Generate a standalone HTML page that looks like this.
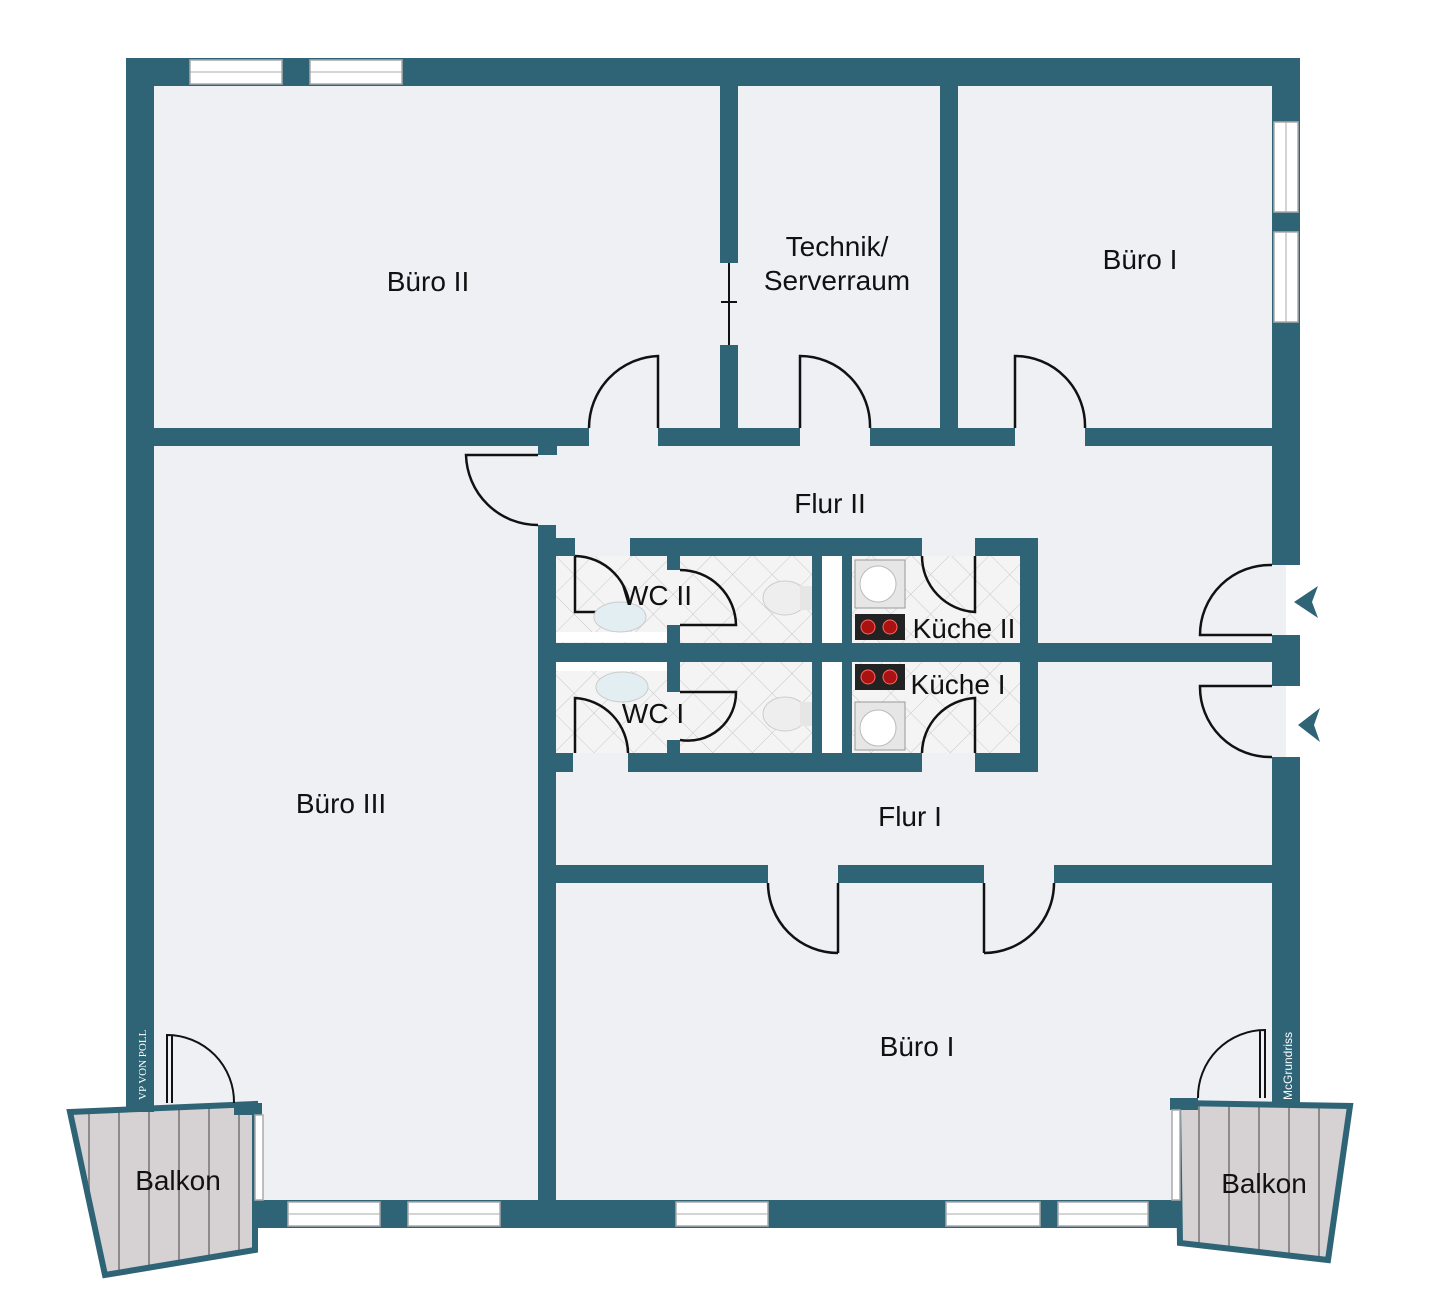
<!DOCTYPE html>
<html><head><meta charset="utf-8"><style>
html,body{margin:0;padding:0;background:#fff;}
svg{display:block;}
text{font-family:"Liberation Sans",sans-serif;fill:#111;}
</style></head><body>
<svg width="1440" height="1308" viewBox="0 0 1440 1308" xmlns="http://www.w3.org/2000/svg">
<defs>
<pattern id="tile" width="28" height="28" patternUnits="userSpaceOnUse" patternTransform="rotate(45)">
<rect width="28" height="28" fill="#f4f4f4"/>
<path d="M0 0H28M0 0V28" stroke="#c8c8c8" stroke-width="1"/>
</pattern>
<pattern id="wood" width="30" height="200" patternUnits="userSpaceOnUse">
<rect width="30" height="200" fill="#d6d2d3"/>
<rect x="28" width="2" height="200" fill="#8e8a8c"/>
</pattern>
</defs>
<rect x="140" y="72" width="1146" height="1142" fill="#eef0f4"/>
<rect x="1270" y="565" width="16" height="192" fill="#eef0f4"/>
<rect x="556" y="556" width="464" height="197" fill="url(#tile)"/>
<rect x="822" y="556" width="20" height="197" fill="#fff"/>
<rect x="556" y="632" width="111" height="10" fill="#fff"/>
<rect x="556" y="662" width="111" height="9" fill="#fff"/>
<polygon points="70,1112 255,1104 255,1250 105,1275" fill="url(#wood)" stroke="#2e6476" stroke-width="6"/>
<polygon points="1178,1103 1350,1106 1328,1260 1180,1243" fill="url(#wood)" stroke="#2e6476" stroke-width="6"/>
<g fill="#2e6476">
<rect x="126" y="58" width="1174" height="28"/>
<rect x="126" y="58" width="28" height="1054"/>
<rect x="1272" y="58" width="28" height="507"/>
<rect x="1272" y="635" width="28" height="51"/>
<rect x="1272" y="757" width="28" height="349"/>
<rect x="253" y="1200" width="927" height="28"/>
<rect x="234" y="1103" width="28" height="12"/>
<rect x="1170" y="1098" width="28" height="12"/>
<rect x="154" y="428" width="435" height="18"/>
<rect x="658" y="428" width="142" height="18"/>
<rect x="870" y="428" width="145" height="18"/>
<rect x="1085" y="428" width="187" height="18"/>
<rect x="720" y="86" width="18" height="177"/>
<rect x="720" y="345" width="18" height="83"/>
<rect x="940" y="86" width="18" height="342"/>
<rect x="538" y="446" width="19" height="9"/>
<rect x="538" y="525" width="18" height="675"/>
<rect x="538" y="538" width="37" height="18"/>
<rect x="630" y="538" width="292" height="18"/>
<rect x="975" y="538" width="63" height="18"/>
<rect x="1020" y="538" width="18" height="234"/>
<rect x="538" y="643" width="734" height="19"/>
<rect x="538" y="753" width="35" height="19"/>
<rect x="628" y="753" width="294" height="19"/>
<rect x="975" y="753" width="63" height="19"/>
<rect x="667" y="556" width="13" height="14"/>
<rect x="667" y="625" width="13" height="37"/>
<rect x="667" y="662" width="13" height="30"/>
<rect x="667" y="740" width="13" height="13"/>
<rect x="812" y="556" width="10" height="197"/>
<rect x="842" y="556" width="10" height="197"/>
<rect x="556" y="865" width="212" height="18"/>
<rect x="838" y="865" width="146" height="18"/>
<rect x="1054" y="865" width="218" height="18"/>
</g>
<g fill="#fff" stroke="#aaa" stroke-width="1.5">
<rect x="190" y="60" width="92" height="24"/><rect x="310" y="60" width="92" height="24"/>
<rect x="1274" y="122" width="24" height="90"/><rect x="1274" y="232" width="24" height="90"/>
<rect x="288" y="1202" width="92" height="24"/><rect x="408" y="1202" width="92" height="24"/>
<rect x="676" y="1202" width="92" height="24"/><rect x="946" y="1202" width="94" height="24"/><rect x="1058" y="1202" width="90" height="24"/>
<rect x="255" y="1115" width="8" height="85"/><rect x="1172" y="1110" width="8" height="90"/>
</g>
<g stroke="#aaa" stroke-width="1">
<path d="M190 72H282M310 72H402M1286 122V212M1286 232V322M288 1214H380M408 1214H500M676 1214H768M946 1214H1040M1058 1214H1148"/>
</g>
<g fill="none" stroke="#111" stroke-width="2.5">
<path d="M658 428V356A72 72 0 0 0 589 428"/>
<path d="M800 428V356A70 70 0 0 1 870 428"/>
<path d="M1015 428V356A70 70 0 0 1 1085 428"/>
<path d="M538 455H466A72 72 0 0 0 538 525"/>
<path d="M729 263V345M721 302H737" stroke-width="2"/>
<path d="M838 953V883M838 953A70 70 0 0 1 768 883"/>
<path d="M984 953V883M984 953A70 70 0 0 0 1054 883"/>
<path d="M1272 635H1200A70 70 0 0 1 1272 565"/>
<path d="M1272 686H1200A70 70 0 0 0 1272 757"/>
<path d="M575 556V612H630A56 56 0 0 0 575 556"/>
<path d="M680 570A56 56 0 0 1 736 625H680"/>
<path d="M680 740A48 48 0 0 0 736 692H680"/>
<path d="M575 753V698A56 56 0 0 1 628 753"/>
<path d="M975 556V612A56 56 0 0 1 922 556"/>
<path d="M975 753V698A56 56 0 0 0 922 753"/>
<path d="M167 1103V1035A67 67 0 0 1 234 1103M172 1103V1035" stroke-width="2"/>
<path d="M1265 1098V1030A67 67 0 0 0 1198 1098M1260 1098V1030" stroke-width="2"/>
</g>
<polygon points="1294,602 1318,586 1312,602 1318,618" fill="#2e6476"/>
<polygon points="1298,725 1320,708 1314,725 1320,742" fill="#2e6476"/>
<g>
<rect x="855" y="560" width="50" height="48" fill="#e6e6e6" stroke="#999"/><circle cx="878" cy="584" r="18" fill="#fff" stroke="#bbb"/>
<rect x="855" y="614" width="50" height="26" fill="#222"/><circle cx="868" cy="627" r="7" fill="#a11" stroke="#f66"/><circle cx="890" cy="627" r="7" fill="#a11" stroke="#f66"/>
<rect x="855" y="664" width="50" height="26" fill="#222"/><circle cx="868" cy="677" r="7" fill="#a11" stroke="#f66"/><circle cx="890" cy="677" r="7" fill="#a11" stroke="#f66"/>
<rect x="855" y="702" width="50" height="48" fill="#e6e6e6" stroke="#999"/><circle cx="878" cy="728" r="18" fill="#fff" stroke="#bbb"/>
<ellipse cx="785" cy="598" rx="22" ry="17" fill="#eee" stroke="#ccc"/><rect x="800" y="586" width="12" height="24" fill="#e6e6e6"/>
<ellipse cx="785" cy="714" rx="22" ry="17" fill="#eee" stroke="#ccc"/><rect x="800" y="702" width="12" height="24" fill="#e6e6e6"/>
<ellipse cx="620" cy="617" rx="26" ry="15" fill="#e2eef2" stroke="#ccc"/>
<ellipse cx="622" cy="687" rx="26" ry="15" fill="#e2eef2" stroke="#ccc"/>
</g>
<g font-size="28" text-anchor="middle">
<text x="428" y="291">Büro II</text>
<text x="837" y="256">Technik/</text>
<text x="837" y="290">Serverraum</text>
<text x="1140" y="269">Büro I</text>
<text x="830" y="513">Flur II</text>
<text x="657" y="605">WC II</text>
<text x="964" y="638">Küche II</text>
<text x="958" y="694">Küche I</text>
<text x="653" y="723">WC I</text>
<text x="341" y="813">Büro III</text>
<text x="910" y="826">Flur I</text>
<text x="917" y="1056">Büro I</text>
<text x="178" y="1190">Balkon</text>
<text x="1264" y="1193">Balkon</text>
</g>
<text x="0" y="0" font-size="12" style="fill:#fff" transform="translate(1292,1100) rotate(-90)">McGrundriss</text>
<text x="0" y="0" font-size="11" style="fill:#fff;font-family:'Liberation Serif',serif" transform="translate(146,1100) rotate(-90)">VP VON POLL</text>
</svg>
</body></html>
